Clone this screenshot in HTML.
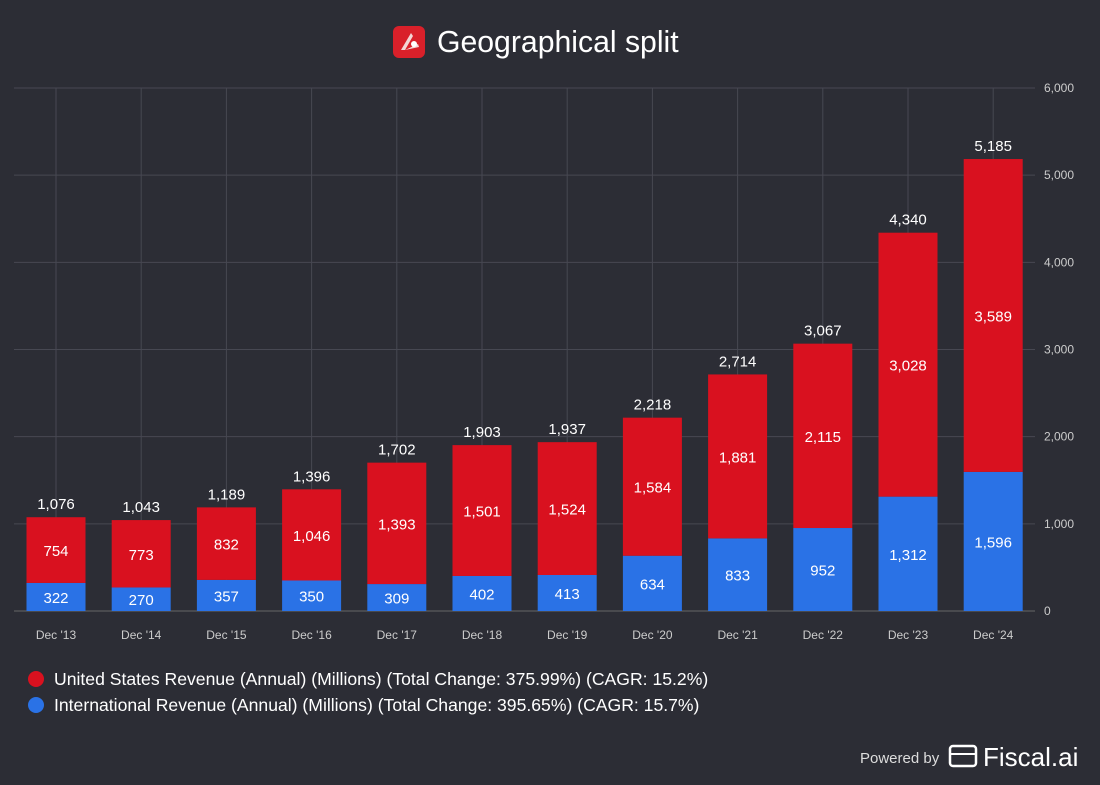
<!DOCTYPE html>
<html><head><meta charset="utf-8"><style>
body{margin:0;width:1100px;height:780px;background:#2c2d35;overflow:hidden;font-family:"Liberation Sans",sans-serif}
svg text{font-family:"Liberation Sans",sans-serif}
</style></head><body>
<svg id="c" width="1100" height="780">
<g>
<rect x="393" y="26" width="32" height="32" rx="6" fill="#d9202a"/>
<path d="M401 50 L411 33 L413 36 L405 50 Z M405 50 L418 44 L419 47 Z" fill="#f3d6d6"/>
<circle cx="414" cy="44" r="3" fill="#fff"/>
<text x="437" y="52" fill="#fff" font-size="30.2">Geographical split</text>
</g>
<g id="grid"></g><g id="bars"></g>
<g>
<circle cx="36" cy="679" r="8" fill="#d9111f"/>
<text x="54" y="685" fill="#fff" font-size="17.6">United States Revenue (Annual) (Millions) (Total Change: 375.99%) (CAGR: 15.2%)</text>
<circle cx="36" cy="705" r="8" fill="#2a72e6"/>
<text x="54" y="711" fill="#fff" font-size="17.6">International Revenue (Annual) (Millions) (Total Change: 395.65%) (CAGR: 15.7%)</text>
</g>
<g>
<text x="860" y="763" fill="#ddd" font-size="15">Powered by</text>
<rect x="950" y="746" width="26" height="20" rx="3" fill="none" stroke="#fff" stroke-width="2.5"/>
<line x1="950" y1="754" x2="976" y2="754" stroke="#fff" stroke-width="2"/>
<text x="983" y="766" fill="#fff" font-size="26">Fiscal.ai</text>
</g>
</svg>
<script>
const categories=["Dec '13","Dec '14","Dec '15","Dec '16","Dec '17","Dec '18","Dec '19","Dec '20","Dec '21","Dec '22","Dec '23","Dec '24"];
const usValues=[754,773,832,1046,1393,1501,1524,1584,1881,2115,3028,3589];
const intlValues=[322,270,357,350,309,402,413,634,833,952,1312,1596];
const totals=[1076,1043,1189,1396,1702,1903,1937,2218,2714,3067,4340,5185];
const yTicks=[0,1000,2000,3000,4000,5000,6000];
const NS="http://www.w3.org/2000/svg";
const y=v=>611-v*(523/6000);
const x=i=>56+i*85.2;
const fmt=v=>v.toLocaleString('en-US');
function mk(t,a,p){const e=document.createElementNS(NS,t);for(const k in a)e.setAttribute(k,a[k]);p.appendChild(e);return e;}
const g=document.getElementById('grid'),b=document.getElementById('bars');
yTicks.forEach(v=>{
 const l=mk('line',{x1:14,x2:1035,y1:y(v),y2:y(v),stroke:v===0?'#666':'#474852','stroke-width':1},g);
 
 
 const t=mk('text',{x:1044,y:y(v)+4,fill:'#ccc','font-size':12},g);t.textContent=fmt(v);
 
 
});
categories.forEach((c,i)=>{
 const l=mk('line',{x1:x(i),x2:x(i),y1:88,y2:611,stroke:'#474852'},g);
 
 
 const t=mk('text',{x:x(i),y:639,fill:'#ccc','font-size':12,'text-anchor':'middle'},g);t.textContent=c;
 
 
});
categories.forEach((c,i)=>{
 const w=59,x0=x(i)-w/2,iv=intlValues[i],uv=usValues[i];
 const r1=mk('rect',{x:x0,y:y(iv),width:w,height:y(0)-y(iv),fill:'#2a72e6'},b);
 
 
 const r2=mk('rect',{x:x0,y:y(iv+uv),width:w,height:y(iv)-y(iv+uv),fill:'#d9111f'},b);
 
 
 const t1=mk('text',{x:x(i),y:(y(0)+y(iv))/2+6,fill:'#fff','font-size':15,'text-anchor':'middle'},b);t1.textContent=fmt(iv);
 
 
 const t2=mk('text',{x:x(i),y:(y(iv)+y(iv+uv))/2+6,fill:'#fff','font-size':15,'text-anchor':'middle'},b);t2.textContent=fmt(uv);
 
 
 const t3=mk('text',{x:x(i),y:y(iv+uv)-8,fill:'#fff','font-size':15,'text-anchor':'middle'},b);t3.textContent=fmt(totals[i]);
 
 
});
</script>
</body></html>
